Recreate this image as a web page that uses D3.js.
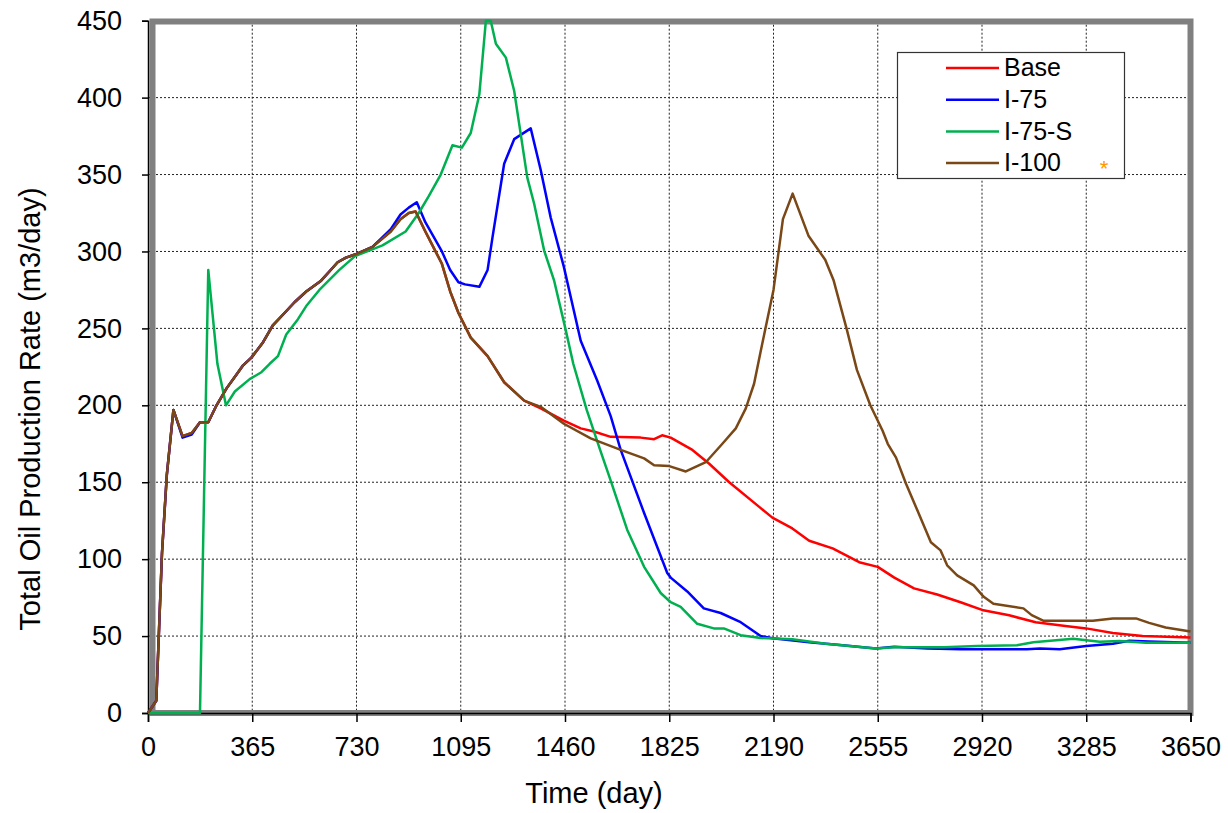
<!DOCTYPE html>
<html>

<head>
    <meta charset="utf-8">
    <style>
        body {
            margin: 0;
            background: white;
        }

        svg {
            font-family: "Liberation Sans", Arial, Helvetica, sans-serif;
        }
    </style>
</head>

<body>
    <svg width="1228" height="813"></svg>
</body>

<script src="https://cdnjs.cloudflare.com/ajax/libs/d3/7.8.5/d3.min.js"></script>

<script>
    // values, [day, m3/day]
    let base = [[0, 0], [29, 8], [49, 104], [66, 155], [89, 197], [121, 180], [153, 182], [182, 189], [211, 189],
        [240, 200], [275, 211], [310, 220], [333, 226], [362, 231], [403, 241], [437, 252], [478, 260], [513, 267],
        [554, 274], [606, 281], [635, 287], [664, 293], [693, 296], [725, 298], [786, 303], [850, 313], [884, 321],
        [913, 325], [937, 326], [971, 313], [1029, 292], [1058, 274], [1087, 260], [1130, 244], [1189, 232],
        [1247, 215], [1317, 203], [1375, 198], [1456, 190], [1515, 185], [1561, 183], [1620, 179.5], [1725, 179],
        [1772, 178], [1800, 180.5], [1830, 179], [1906, 171], [1965, 162], [2035, 150], [2140, 134], [2186, 127],
        [2256, 120], [2315, 112], [2397, 107], [2490, 98], [2555, 95], [2613, 88], [2682, 81], [2763, 77],
        [2845, 72], [2920, 67], [3015, 63.5], [3108, 59], [3212, 56.5], [3285, 55], [3378, 52], [3482, 50],
        [3650, 49]]

    let i75 = [[0, 0], [29, 8], [49, 104], [66, 155], [89, 197], [121, 179], [153, 181], [182, 189], [211, 189],
        [240, 200], [275, 211], [310, 220], [333, 226], [362, 231], [403, 241], [437, 252], [478, 260], [513, 267],
        [554, 274], [606, 281], [635, 287], [664, 293], [693, 296], [725, 298], [786, 303], [850, 314.5],
        [884, 324], [913, 328.5], [941, 332], [971, 319], [1029, 300], [1058, 288], [1087, 280], [1110, 278.6],
        [1160, 277], [1189, 288], [1206, 309], [1247, 357], [1282, 373], [1340, 380], [1375, 353], [1410, 322],
        [1456, 290], [1515, 242], [1573, 216], [1620, 193], [1655, 171], [1737, 130], [1818, 91], [1830, 88],
        [1888, 79], [1946, 68], [2005, 65], [2075, 59], [2145, 50], [2186, 48.6], [2315, 46], [2432, 44],
        [2548, 42], [2613, 43], [2729, 42], [2845, 41.4], [3077, 41.4], [3123, 42], [3192, 41.4], [3285, 43.5],
        [3378, 45], [3436, 47], [3505, 46.5], [3650, 45.7]]

    let i75s = [[0, 0], [182, 0], [211, 288], [243, 227], [273, 200], [304, 209], [356, 217], [397, 221.5],
        [426, 227], [455, 232], [484, 246], [525, 256], [554, 264.5], [600, 275], [670, 288], [725, 297],
        [821, 304], [902, 313], [948, 325], [983, 336], [1025, 350], [1066, 369], [1099, 367.5], [1130, 377],
        [1160, 402], [1183, 450], [1200, 450], [1218, 435], [1253, 426], [1282, 404.5], [1328, 348], [1352, 331],
        [1387, 300.6], [1422, 281], [1460, 251], [1489, 227], [1536, 197], [1583, 171], [1620, 151], [1678, 119],
        [1737, 95], [1795, 78], [1830, 72], [1865, 69], [1923, 58], [1981, 55], [2016, 55], [2075, 50.6],
        [2145, 48.7], [2256, 48], [2373, 45], [2548, 42], [2613, 42.7], [2787, 42.7], [2903, 43.5], [3042, 44],
        [3100, 46], [3239, 48.3], [3332, 46.3], [3401, 46.8], [3494, 45.7], [3650, 45.7]]

    let i100 = [[0, 0], [29, 8], [49, 104], [66, 155], [89, 197], [121, 180], [153, 182], [182, 189], [211, 189],
        [240, 200], [275, 211], [310, 220], [333, 226], [362, 231], [403, 241], [437, 252], [478, 260], [513, 267],
        [554, 274], [606, 281], [635, 287], [664, 293], [693, 296], [725, 298], [786, 303], [850, 313], [884, 321],
        [913, 325], [937, 326], [971, 313], [1029, 292], [1058, 274], [1087, 260], [1130, 244], [1189, 232],
        [1247, 215], [1317, 203], [1375, 199], [1456, 188], [1550, 178.5], [1655, 171], [1737, 165.5],
        [1772, 161], [1825, 160.5], [1883, 157], [1953, 163], [2011, 175], [2058, 185], [2093, 198], [2122, 214],
        [2145, 235], [2190, 275], [2223, 321], [2257, 337.6], [2313, 310], [2371, 294.6], [2400, 281.5],
        [2447, 249], [2482, 223], [2529, 200], [2572, 183.5], [2590, 175], [2619, 166], [2654, 149],
        [2694, 131.6], [2741, 111], [2775, 105.7], [2798, 96], [2833, 89.5], [2891, 83], [2926, 75.5], [2960, 71],
        [3065, 68], [3094, 63.6], [3134, 60], [3308, 60], [3378, 61.5], [3459, 61.5], [3505, 58.6],
        [3563, 55.6], [3650, 53]]

    let seriesNames = ["Base", "I-75", "I-75-S", "I-100"]
    let seriesColors = ["#ff0000", "#0000ff", "#00b050", "#7a4716"]
    let xTicks = [0, 365, 730, 1095, 1460, 1825, 2190, 2555, 2920, 3285, 3650]
    let yTicks = [0, 50, 100, 150, 200, 250, 300, 350, 400, 450]

    let allSeries = [base, i75, i75s, i100]

    let svg = d3.select("svg")

    let plotLeft = 148
    let plotRight = 1190.5
    let plotTop = 20.7
    let plotBottom = 713

    let x = d3.scaleLinear()
        .domain([0, 3650])
        .range([plotLeft, plotRight])

    let y = d3.scaleLinear()
        .domain([0, 450])
        .range([plotBottom, plotTop])

    // dotted grid
    svg.selectAll(".vgrid")
        .data(xTicks.slice(1, -1))
        .join("line")
        .attr("x1", d => x(d))
        .attr("x2", d => x(d))
        .attr("y1", plotTop)
        .attr("y2", plotBottom)
        .style("stroke", "#222")
        .style("stroke-width", 1)
        .style("stroke-dasharray", "2,2")

    svg.selectAll(".hgrid")
        .data(yTicks.slice(1, -1))
        .join("line")
        .attr("x1", plotLeft)
        .attr("x2", plotRight)
        .attr("y1", d => y(d))
        .attr("y2", d => y(d))
        .style("stroke", "#222")
        .style("stroke-width", 1)
        .style("stroke-dasharray", "2,2")

    // gray plot frame
    svg.append("rect")
        .attr("x", 152.5)
        .attr("y", 21.5)
        .attr("width", plotRight - 152.5)
        .attr("height", plotBottom - 21.5)
        .style("fill", "none")
        .style("stroke", "#808080")
        .style("stroke-width", 6)

    // axes
    svg.append("g")
        .attr("transform", `translate(0,${plotBottom})`)
        .call(d3.axisBottom(x).tickValues(xTicks).tickFormat(d3.format("d")).tickSize(9).tickPadding(15))

    svg.append("g")
        .attr("transform", `translate(${plotLeft},0)`)
        .call(d3.axisLeft(y).tickValues(yTicks).tickFormat(d3.format("d")).tickSize(6).tickPadding(20))

    svg.selectAll(".domain").style("stroke", "#000").style("stroke-width", 1.5)
    svg.selectAll(".tick line").style("stroke", "#000").style("stroke-width", 1.5)
    svg.selectAll(".tick text")
        .style("font-size", "27px")
        .style("font-family", "'Liberation Sans', Arial, sans-serif")
        .style("fill", "#000")

    let line = d3.line()
        .x(d => x(d[0]))
        .y(d => y(d[1]))

    svg.selectAll(".series")
        .data(allSeries)
        .join("path")
        .attr("d", line)
        .style("fill", "none")
        .style("stroke", (d, i) => seriesColors[i])
        .style("stroke-width", 2.5)
        .style("stroke-linejoin", "round")

    svg.append("text")
        .attr("x", 594)
        .attr("y", 803)
        .attr("text-anchor", "middle")
        .style("font-size", "29px")
        .text("Time (day)")

    svg.append("text")
        .attr("transform", "translate(40,409) rotate(-90)")
        .attr("text-anchor", "middle")
        .style("font-size", "29px")
        .text("Total Oil Production Rate (m3/day)")

    // legend
    let legend = svg.append("g")

    legend.append("rect")
        .attr("x", 897.5)
        .attr("y", 52.5)
        .attr("width", 227)
        .attr("height", 126)
        .style("fill", "white")
        .style("stroke", "#333")
        .style("stroke-width", 1.2)

    let rows = legend.selectAll(".row")
        .data(seriesNames)
        .join("g")
        .attr("transform", (d, i) => `translate(0,${68 + i * 31.7})`)

    rows.append("line")
        .attr("x1", 946)
        .attr("x2", 999)
        .style("stroke", (d, i) => seriesColors[i])
        .style("stroke-width", 2.5)

    rows.append("text")
        .attr("x", 1004)
        .attr("dy", "0.33em")
        .style("font-size", "25px")
        .text(d => d)

    legend.append("text")
        .attr("x", 1104)
        .attr("y", 176)
        .attr("text-anchor", "middle")
        .style("font-size", "22px")
        .style("fill", "#ff9900")
        .text("*")
</script>

</html>
